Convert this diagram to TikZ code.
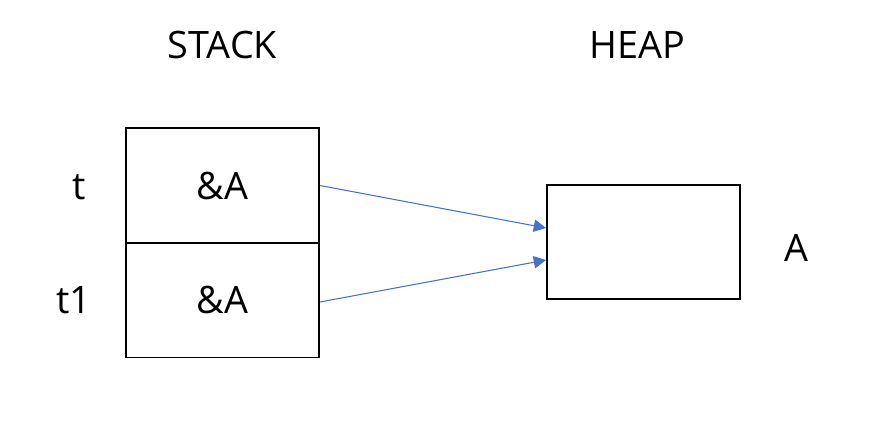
\documentclass[tikz,border=0pt]{standalone}
\usepackage{fontspec}
\setmainfont{Open Sans}
\usepackage{tikz}
\usetikzlibrary{
    positioning,
    arrows.meta,
    calc
}
\definecolor{refBlue}{RGB}{68, 114, 196}

\begin{document}
\begin{tikzpicture}[x=0.02cm, y=-0.02cm, >={Triangle[length=7pt, width=7pt]},
        cell/.style={draw, line width=1.1pt, minimum width=3.86cm, minimum height=2.3cm, inner sep=0pt},
        txt/.style={font=\fontsize{21.5}{25}\selectfont, inner sep=0pt},
        ptr/.style={->, refBlue, line width=0.6pt}]
        \useasboundingbox (0,0) rectangle (887,424);
        
        % スタック
        \node[cell] (top) at (222.5,185.5) {};
        \node[cell] (bot) at (222.5,300) {};
        \node[txt] (refT) at (top) {\&A};
        \node[txt] (refT1) at (bot) {\&A};
        \node[txt] (stack) at (222.5,45) {STACK};
        \node[txt] (varT) at (79,187) {t};
        \node[txt] (varT1) at (74,300) {t1};
        
        % ヒープ
        \node[cell, minimum height=2.28cm] (heap) at (643.5,242) {};
        \node[txt] (heapLbl) at (637,45) {HEAP};
        \node[txt] (objA) at (796,248) {A};
        
        % 参照
        \coordinate (in1) at ($ (heap.west) + (0,-14) $);
        \coordinate (in2) at ($ (heap.west) + (0,18) $);
        \draw[ptr] (top.east) -- (in1);
        \draw[ptr] ($ (bot.east) + (0,2) $) -- (in2);
    \end{tikzpicture}
\end{document}
